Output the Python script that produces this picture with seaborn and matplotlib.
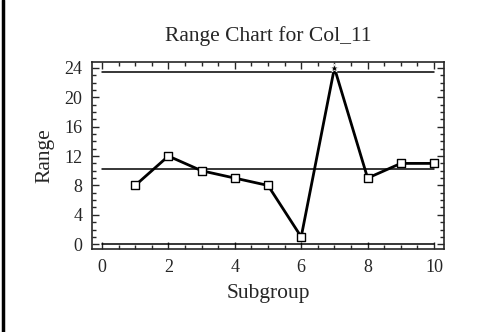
import matplotlib
matplotlib.use("Agg")
import matplotlib.pyplot as plt
import seaborn as sns
import pandas as pd
from matplotlib.ticker import MultipleLocator
from matplotlib.lines import Line2D

# Dane karty R
subgroups = [1, 2, 3, 4, 5, 6, 7, 8, 9, 10]
ranges = [8, 12, 10, 9, 8, 1, 24, 9, 11, 11]
ucl = 23.5
center = 10.3
lcl = 0.0

df = pd.DataFrame({'Subgroup': subgroups, 'Range': ranges})
df['Out'] = df['Range'] > ucl

sns.set_style('ticks')
plt.rcParams['font.family'] = ['Liberation Serif', 'DejaVu Serif']

fig = plt.figure(figsize=(5.02, 3.32), dpi=100)
ax = fig.add_axes([92 / 502, 1 - 249 / 332, (444 - 92) / 502, (249 - 62) / 332])

# linie kontrolne
for y in [ucl, center, lcl]:
    ax.plot([0, 10], [y, y], color='black', lw=1.1, zorder=1)

sns.lineplot(data=df, x='Subgroup', y='Range', ax=ax, color='black', lw=2, zorder=2)
sns.scatterplot(data=df[~df['Out']], x='Subgroup', y='Range', ax=ax, marker='s', s=32,
                facecolor='white', edgecolor='black', linewidth=1.0, zorder=3)
sns.scatterplot(data=df[df['Out']], x='Subgroup', y='Range', ax=ax, marker='*', s=40,
                color='black', zorder=3)

ax.set_xlim(-0.3, 10.3)
ax.set_ylim(-0.65, 24.8)
ax.xaxis.set_major_locator(MultipleLocator(2))
ax.xaxis.set_minor_locator(MultipleLocator(0.5))
ax.yaxis.set_major_locator(MultipleLocator(4))
ax.yaxis.set_minor_locator(MultipleLocator(1))
ax.tick_params(which='both', direction='in', top=True, right=True, labelsize=13, pad=7)
ax.tick_params(which='major', length=5, width=1)
ax.tick_params(which='minor', length=3, width=1)
for sp in ax.spines.values():
    sp.set_linewidth(1.2)

ax.set_xlabel('Subgroup', fontsize=15.5, labelpad=6)
ax.set_ylabel('Range', fontsize=15.5, labelpad=7)
ax.set_title('Range Chart for Col_11', fontsize=15.5, pad=15)

# lewa ramka
fig.add_artist(Line2D([3 / 502, 3 / 502], [0, 1], color='black', lw=2.5, transform=fig.transFigure))

fig.savefig('out.png', dpi=100)
